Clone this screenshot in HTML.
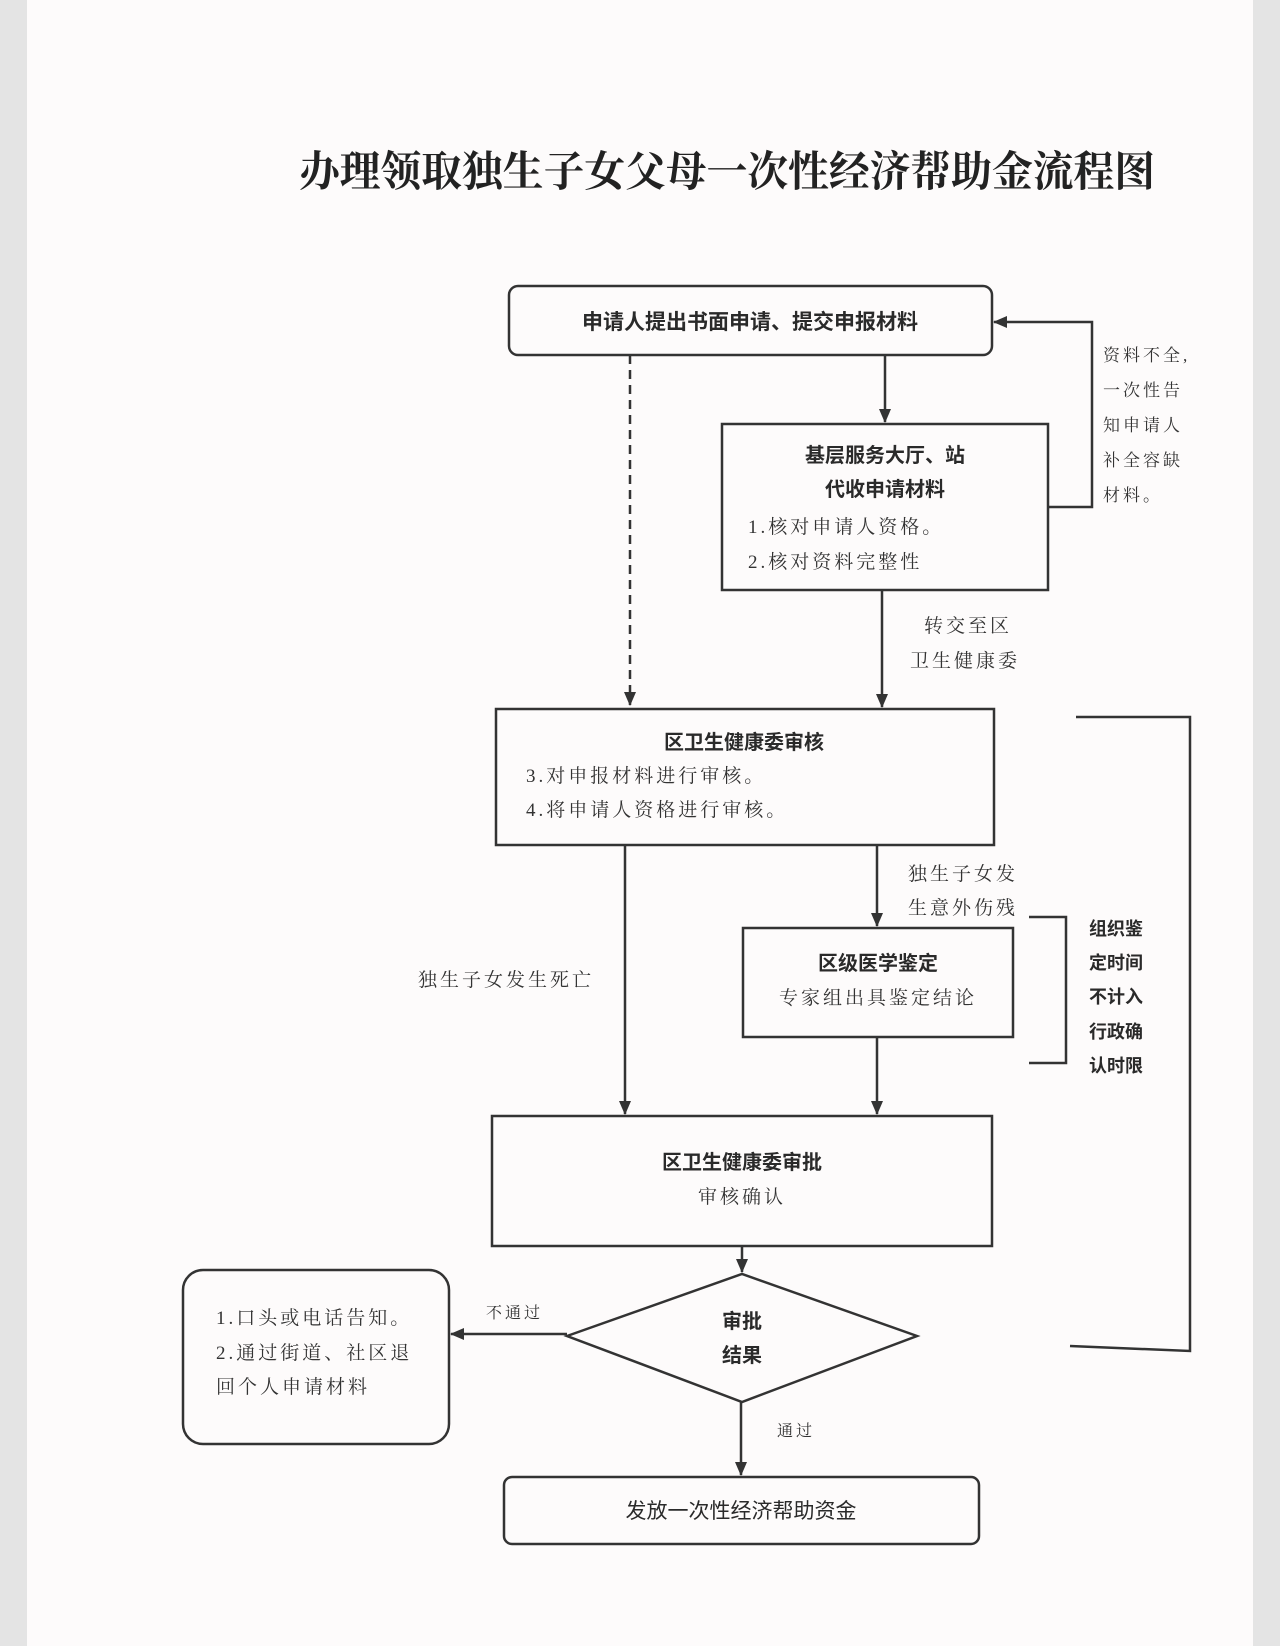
<!DOCTYPE html>
<html><head><meta charset="utf-8"><style>
html,body{margin:0;padding:0;}
body{width:1280px;height:1646px;background:#dcdcdc;overflow:hidden;}
svg{display:block;}
.b{font-family:"Liberation Sans","Noto Sans CJK SC",sans-serif;font-weight:bold;fill:#2a2a2a;}
.s{font-family:"Liberation Serif","Noto Serif CJK SC",serif;fill:#333;letter-spacing:3px;}
</style></head><body>
<svg width="1280" height="1646" viewBox="0 0 1280 1646" xmlns="http://www.w3.org/2000/svg">
<defs>
<marker id="ah" markerWidth="14" markerHeight="14" refX="13" refY="7" orient="auto" markerUnits="userSpaceOnUse"><path d="M0,1 L14,7 L0,13 z" fill="#333"/></marker>
</defs>
<rect x="0" y="0" width="1280" height="1646" fill="#e4e4e4"/>
<rect x="27" y="0" width="1226" height="1646" fill="#fdfbfb"/>
<text x="299" y="186" class="b" textLength="856" lengthAdjust="spacingAndGlyphs" style="font-family:'Liberation Serif','Noto Serif CJK SC',serif;font-size:42px;fill:#222">办理领取独生子女父母一次性经济帮助金流程图</text>
<g stroke="#333" stroke-width="2.5" fill="none">
<rect x="509" y="286" width="483" height="69" rx="9"/>
<rect x="722" y="424" width="326" height="166"/>
<rect x="496" y="709" width="498" height="136"/>
<rect x="743" y="928" width="270" height="109"/>
<rect x="492" y="1116" width="500" height="130"/>
<path d="M567,1336 L742,1274 L917,1336 L742,1402 Z"/>
<rect x="183" y="1270" width="266" height="174" rx="20"/>
<rect x="504" y="1477" width="475" height="67" rx="8"/>
<line x1="630" y1="355" x2="630" y2="705" stroke-dasharray="9,6" marker-end="url(#ah)"/>
<line x1="885" y1="355" x2="885" y2="422" marker-end="url(#ah)"/>
<line x1="882" y1="590" x2="882" y2="707" marker-end="url(#ah)"/>
<polyline points="1048,507 1092,507 1092,322 994,322" marker-end="url(#ah)"/>
<line x1="877" y1="845" x2="877" y2="926" marker-end="url(#ah)"/>
<line x1="625" y1="845" x2="625" y2="1114" marker-end="url(#ah)"/>
<line x1="877" y1="1037" x2="877" y2="1114" marker-end="url(#ah)"/>
<polyline points="1029,917 1066,917 1066,1063 1029,1063"/>
<polyline points="1076,717 1190,717 1190,1351 1070,1346"/>
<line x1="742" y1="1246" x2="742" y2="1272" marker-end="url(#ah)"/>
<line x1="567" y1="1334" x2="451" y2="1334" marker-end="url(#ah)"/>
<line x1="741" y1="1402" x2="741" y2="1475" marker-end="url(#ah)"/>
</g>
<g font-size="20">
<text x="750" y="329" class="b" text-anchor="middle" font-size="21">申请人提出书面申请、提交申报材料</text>
<text x="885" y="462" class="b" text-anchor="middle">基层服务大厅、站</text>
<text x="885" y="496" class="b" text-anchor="middle">代收申请材料</text>
<text x="748" y="533" class="s" font-size="19">1.核对申请人资格。</text>
<text x="748" y="568" class="s" font-size="19">2.核对资料完整性</text>
<text x="744" y="749" class="b" text-anchor="middle">区卫生健康委审核</text>
<text x="526" y="782" class="s" font-size="19">3.对申报材料进行审核。</text>
<text x="526" y="816" class="s" font-size="19">4.将申请人资格进行审核。</text>
<text x="878" y="970" class="b" text-anchor="middle">区级医学鉴定</text>
<text x="878" y="1004" class="s" font-size="19" text-anchor="middle">专家组出具鉴定结论</text>
<text x="742" y="1169" class="b" text-anchor="middle">区卫生健康委审批</text>
<text x="742" y="1203" class="s" font-size="19" text-anchor="middle">审核确认</text>
<text x="742" y="1328" class="b" text-anchor="middle">审批</text>
<text x="742" y="1362" class="b" text-anchor="middle">结果</text>
<text x="216" y="1324" class="s" font-size="19">1.口头或电话告知。</text>
<text x="216" y="1359" class="s" font-size="19">2.通过街道、社区退</text>
<text x="216" y="1393" class="s" font-size="19">回个人申请材料</text>
<text x="741" y="1518" class="b" text-anchor="middle" font-size="21" style="font-weight:normal">发放一次性经济帮助资金</text>
<text x="924" y="632" class="s" font-size="19">转交至区</text>
<text x="910" y="667" class="s" font-size="19">卫生健康委</text>
<text x="908" y="880" class="s" font-size="19">独生子女发</text>
<text x="908" y="914" class="s" font-size="19">生意外伤残</text>
<text x="418" y="986" class="s" font-size="19">独生子女发生死亡</text>
<text x="1103" y="361" class="s" font-size="17">资料不全,</text>
<text x="1103" y="396" class="s" font-size="17">一次性告</text>
<text x="1103" y="431" class="s" font-size="17">知申请人</text>
<text x="1103" y="466" class="s" font-size="17">补全容缺</text>
<text x="1103" y="501" class="s" font-size="17">材料。</text>
<text x="1089" y="935" class="b" font-size="18">组织鉴</text>
<text x="1089" y="969" class="b" font-size="18">定时间</text>
<text x="1089" y="1003" class="b" font-size="18">不计入</text>
<text x="1089" y="1038" class="b" font-size="18">行政确</text>
<text x="1089" y="1072" class="b" font-size="18">认时限</text>
<text x="486" y="1318" class="s" font-size="16">不通过</text>
<text x="777" y="1436" class="s" font-size="16">通过</text>
</g>
</svg>
</body></html>
